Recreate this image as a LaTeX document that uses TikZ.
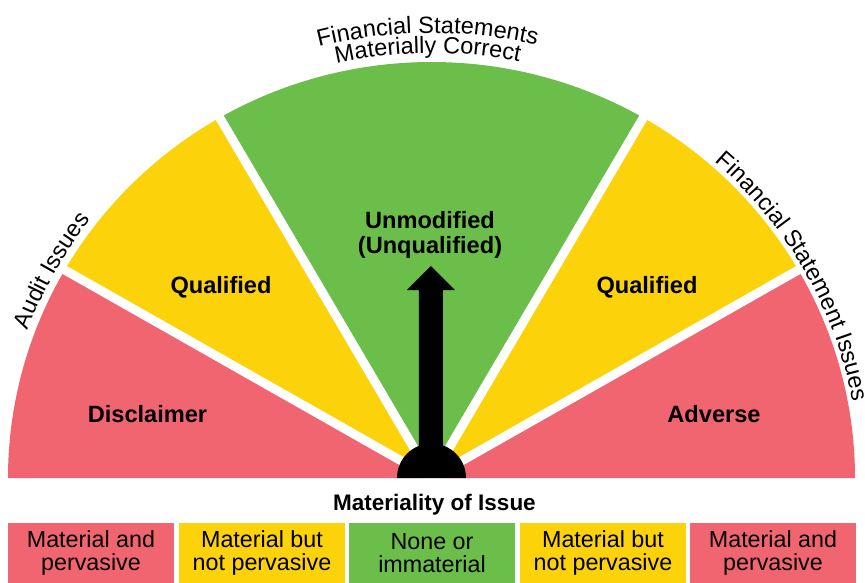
\documentclass[tikz,border=0pt]{standalone}
\usepackage{fontspec}
\setmainfont{Liberation Sans}
\usetikzlibrary{decorations.text}
\definecolor{cred}{RGB}{240,101,112}
\definecolor{cyel}{RGB}{252,210,10}
\definecolor{cgrn}{RGB}{108,190,75}
\begin{document}
\begin{tikzpicture}[x=1pt,y=1pt,
  lbl/.style={font=\fontsize{23.6}{25}\selectfont\bfseries, align=center, inner sep=0pt},
  boxnode/.style={minimum width=166pt, minimum height=60pt, inner sep=0pt,
    font=\fontsize{23.3}{23}\selectfont, align=center},
  gapline/.style={white, line width=9pt},
  arctext/.style={decorate, decoration={text along path, text align=center}}]
\useasboundingbox (-431.5,-104) rectangle (433.5,478);
\def\rx{423.5}
\def\ry{416}
% sectors
\fill[cred] (0,0) -- (\rx,0) arc[start angle=0,end angle=30,x radius=\rx,y radius=\ry] -- cycle;
\fill[cyel] (0,0) -- ({\rx*cos(30)},{\ry*sin(30)}) arc[start angle=30,end angle=60,x radius=\rx,y radius=\ry] -- cycle;
\fill[cgrn] (0,0) -- ({\rx*cos(60)},{\ry*sin(60)}) arc[start angle=60,end angle=120,x radius=\rx,y radius=\ry] -- cycle;
\fill[cyel] (0,0) -- ({\rx*cos(120)},{\ry*sin(120)}) arc[start angle=120,end angle=150,x radius=\rx,y radius=\ry] -- cycle;
\fill[cred] (0,0) -- ({\rx*cos(150)},{\ry*sin(150)}) arc[start angle=150,end angle=180,x radius=\rx,y radius=\ry] -- cycle;
% gaps
\coordinate (c) at (0,0);
\foreach \a in {30,60,120,150}{
  \draw[gapline] (c) -- ({1.05*\rx*cos(\a)},{1.05*\ry*sin(\a)});
}
% labels
\node[lbl] (dis) at (-284,64) {Disclaimer};
\node[lbl] (qul) at (-210.5,191) {Qualified};
\node[lbl] (unm) at (-1.5,243.5) {Unmodified\\(Unqualified)};
\node[lbl] (qur) at (215.5,191) {Qualified};
\node[lbl] (adv) at (282.5,64) {Adverse};
% pointer
\fill[black] (34.5,0) arc[start angle=0,end angle=180,radius=34.5] -- cycle;
\fill[black] (-12.5,20) -- (-12.5,188) -- (-24.5,188) -- (-0.5,212) -- (23.5,188) -- (11.5,188) -- (11.5,20) -- cycle;
% curved texts
\path[arctext, decoration={text={|\fontsize{23.5}{23}\selectfont|Audit Issues}}]
  ({430.5*cos(171)},{423*sin(171)}) arc[start angle=171,end angle=131,x radius=430.5,y radius=423];
\path[arctext, decoration={text={|\fontsize{23.5}{23}\selectfont|Financial Statement Issues}}]
  ({428.5*cos(59.5)},{421*sin(59.5)}) arc[start angle=59.5,end angle=-0.5,x radius=428.5,y radius=421];
\path[arctext, decoration={text={|\fontsize{23.5}{23}\selectfont|Financial Statements}}]
  ({452.5*cos(125.5)},{445*sin(125.5)}) arc[start angle=125.5,end angle=55.5,x radius=452.5,y radius=445];
\path[arctext, decoration={text={|\fontsize{23.5}{23}\selectfont|Materially Correct}}]
  ({432.5*cos(125.5)},{425*sin(125.5)}) arc[start angle=125.5,end angle=55.5,x radius=432.5,y radius=425];
% bottom
\node[font=\fontsize{22.5}{23}\selectfont\bfseries, inner sep=0pt] (mat) at (3,-27) {Materiality of Issue};
\node[boxnode, fill=cred] (b1) at (-340.5,-75) {Material and\\pervasive};
\node[boxnode, fill=cyel] (b2) at (-169.5,-75) {Material but\\not pervasive};
\node[boxnode, fill=cgrn] (b3) at (0.5,-75) {None or\\immaterial};
\node[boxnode, fill=cyel] (b4) at (171.5,-75) {Material but\\not pervasive};
\node[boxnode, fill=cred] (b5) at (341.5,-75) {Material and\\pervasive};
\end{tikzpicture}
\end{document}
